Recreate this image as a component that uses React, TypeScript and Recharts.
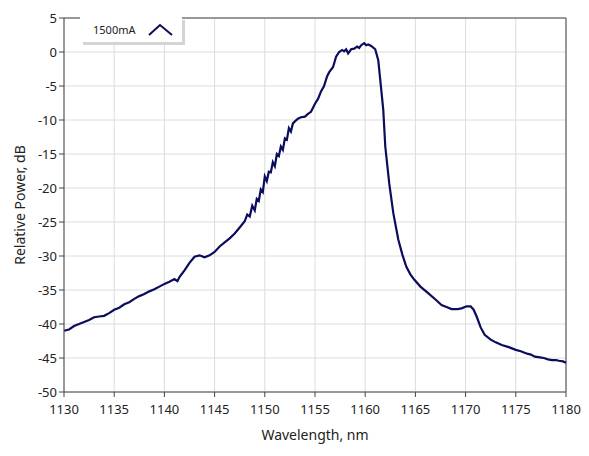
import React from "react";
import {
  CartesianGrid,
  Line,
  LineChart,
  ReferenceLine,
  XAxis,
  YAxis,
} from "recharts";

// wavelength, nm
const wavelength = [
  1130, 1130.5, 1131, 1131.5, 1132, 1132.5, 1133, 1133.5, 1134, 1134.5,
  1135, 1135.5, 1136, 1136.5, 1137, 1137.5, 1138, 1138.5, 1139, 1139.5,
  1140, 1140.5, 1141, 1141.3, 1141.5, 1142, 1142.5, 1143, 1143.5, 1144,
  1144.5, 1145, 1145.5, 1146, 1146.5, 1147, 1147.5, 1148, 1148.25, 1148.5,
  1148.75, 1149, 1149.2, 1149.4, 1149.6, 1149.8, 1150, 1150.2, 1150.4,
  1150.6, 1150.8, 1151, 1151.2, 1151.4, 1151.6, 1151.8, 1152, 1152.2,
  1152.4, 1152.6, 1152.8, 1153, 1153.3, 1153.6, 1154, 1154.3, 1154.6,
  1155, 1155.3, 1155.6, 1155.9, 1156.2, 1156.4, 1156.8, 1157.1, 1157.4,
  1157.7, 1157.9, 1158.1, 1158.3, 1158.6, 1158.9, 1159.2, 1159.4, 1159.6,
  1159.9, 1160.1, 1160.3, 1160.6, 1161, 1161.3, 1161.5, 1161.8, 1162,
  1162.4, 1162.8, 1163.3, 1163.7, 1164.1, 1164.5, 1164.9, 1165.5, 1166.3,
  1167, 1167.6, 1168.1, 1168.6, 1169.2, 1169.6, 1170.1, 1170.5, 1170.8,
  1171.1, 1171.5, 1171.9, 1172.5, 1173, 1173.6, 1174.3, 1175, 1175.5,
  1176, 1176.5, 1176.9, 1177.4, 1177.8, 1178.2, 1178.6, 1179, 1179.3,
  1179.7, 1180,
];

// relative power, dB
const power = [
  -41.0, -40.8, -40.3, -40.0, -39.7, -39.4, -39.0, -38.9, -38.8, -38.4,
  -37.9, -37.6, -37.1, -36.8, -36.3, -35.9, -35.6, -35.2, -34.9, -34.5,
  -34.1, -33.8, -33.4, -33.7, -33.1, -32.1, -31.0, -30.1, -29.9, -30.2,
  -29.9, -29.4, -28.6, -28.0, -27.4, -26.7, -25.8, -24.9, -23.9, -24.2,
  -22.6, -23.3, -21.6, -21.9, -20.2, -20.6, -18.3, -19.0, -17.6, -17.7,
  -16.2, -16.8, -15.0, -15.3, -13.9, -14.4, -12.7, -12.9, -11.2, -11.7,
  -10.5, -10.2, -9.8, -9.6, -9.5, -9.1, -8.8, -7.6, -6.9, -5.8, -5.0,
  -3.6, -3.0, -2.2, -0.7, 0.0, 0.3, 0.1, 0.4, -0.2, 0.4, 0.5, 0.8, 0.6,
  1.0, 1.3, 1.0, 1.1, 0.9, 0.4, -1.2, -4.1, -8.5, -13.9, -19.4, -23.7,
  -27.6, -29.8, -31.6, -32.7, -33.5, -34.5, -35.5, -36.4, -37.2, -37.5,
  -37.8, -37.8, -37.7, -37.4, -37.4, -37.9, -38.9, -40.5, -41.6, -42.3,
  -42.7, -43.1, -43.4, -43.8, -44.0, -44.3, -44.5, -44.8, -44.9, -45.0,
  -45.2, -45.3, -45.3, -45.4, -45.5, -45.7,
];

const xTicks = [1130, 1135, 1140, 1145, 1150, 1155, 1160, 1165, 1170, 1175, 1180];
const yTicks = [-50, -45, -40, -35, -30, -25, -20, -15, -10, -5, 0, 5];

const seriesName = "1500mA";

const data = wavelength.map((w, i) => ({ w, p: power[i] }));

const LINE = "#0c0c5c";
const FONT = "'Noto Sans', sans-serif";
const tickStyle = { fontSize: 13, fill: "#222", fontFamily: FONT };

// legend box drawn over the plot, top-left
function LegendBox() {
  return (
    <div
      style={{
        position: "absolute",
        left: 80,
        top: 17,
        width: 102,
        height: 25,
        background: "#fff",
        boxShadow: "3px 3px 0 #d4d4d4",
        display: "flex",
        alignItems: "center",
        fontFamily: FONT,
        fontSize: 11,
        color: "#222",
      }}
    >
      <span style={{ marginLeft: 13, width: 55 }}>{seriesName}</span>
      <svg width={26} height={14}>
        <polyline points="1,12 12,2 24,12" fill="none" stroke={LINE} strokeWidth={2} />
      </svg>
    </div>
  );
}

export default function App() {
  return (
    <div style={{ position: "absolute", left: 0, top: 0, background: "#fff" }}>
      <LineChart
        width={589}
        height={456}
        data={data}
        margin={{ top: 18, right: 23, left: 0, bottom: 0 }}
      >
        <CartesianGrid stroke="#dcdcdc" strokeWidth={1} />
        <XAxis
          dataKey="w"
          type="number"
          domain={[1130, 1180]}
          ticks={xTicks}
          interval={0}
          height={64}
          tick={tickStyle}
          tickSize={5}
          tickMargin={8}
          stroke="#444"
          label={{
            value: "Wavelength, nm",
            position: "insideBottom",
            offset: 16,
            style: { fontSize: 14, fill: "#222", fontFamily: FONT },
          }}
        />
        <YAxis
          type="number"
          domain={[-50, 5]}
          ticks={yTicks}
          interval={0}
          width={64}
          tick={tickStyle}
          tickSize={5}
          stroke="#444"
          label={{
            value: "Relative Power, dB",
            angle: -90,
            position: "insideLeft",
            offset: 20,
            style: { fontSize: 14, fill: "#222", fontFamily: FONT, textAnchor: "middle" },
          }}
        />
        <ReferenceLine y={5} stroke="#444" />
        <ReferenceLine x={1180} stroke="#444" />
        <Line
          dataKey="p"
          stroke={LINE}
          strokeWidth={2.2}
          dot={false}
          isAnimationActive={false}
        />
      </LineChart>
      <LegendBox />
    </div>
  );
}
